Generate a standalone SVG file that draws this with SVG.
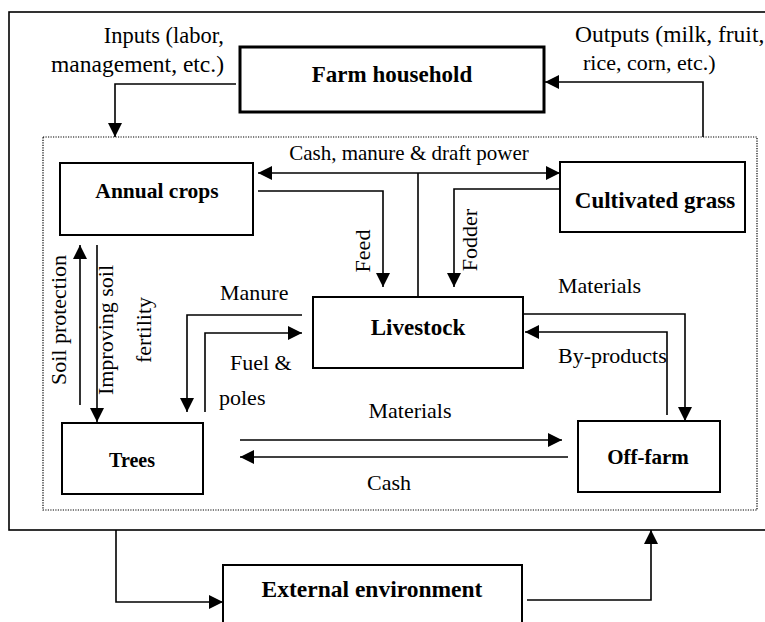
<svg xmlns="http://www.w3.org/2000/svg" width="765" height="622" viewBox="0 0 765 622">
<defs>
<marker id="ah" markerUnits="userSpaceOnUse" markerWidth="15" markerHeight="15" viewBox="0 0 15 15" refX="14" refY="7.5" orient="auto-start-reverse">
<path d="M0,0.5 L14,7.5 L0,14.5 Z" fill="#000"/>
</marker>
<style>
text{font-family:"Liberation Serif","Times New Roman",serif;fill:#000}
.lb{font-size:22px}
.nb{font-size:22px;font-weight:bold}
.box{fill:#fff;stroke:#000;stroke-width:2}
.c{fill:none;stroke:#000;stroke-width:1.6}
.ca{fill:none;stroke:#000;stroke-width:1.6;marker-end:url(#ah)}
</style>
</defs>
<rect width="765" height="622" fill="#fff"/>
<g id="frame">
<rect x="9" y="12" width="780" height="518" fill="none" stroke="#000" stroke-width="1.6"/>
<rect x="43" y="137" width="714" height="373" fill="none" stroke="#000" stroke-width="1.2" stroke-dasharray="1.2,1.3"/>
</g>
<g id="connectors">
<path class="ca" d="M236,84 H115 V137"/>
<path class="ca" d="M703,137 V82 H545"/>
<path class="c" d="M258,173 H560" marker-start="url(#ah)" marker-end="url(#ah)"/>
<path class="c" d="M418,173 V297"/>
<path class="ca" d="M258,191 H383 V287"/>
<path class="ca" d="M560,189 H454 V287"/>
<path class="ca" d="M302,315 H187 V412"/>
<path class="ca" d="M205,412 V333 H302"/>
<path class="ca" d="M80,405 V245"/>
<path class="ca" d="M97,245 V422"/>
<path class="ca" d="M240,440 H562"/>
<path class="ca" d="M568,457 H240"/>
<path class="ca" d="M524,314 H685 V421"/>
<path class="ca" d="M667,415 V332 H525"/>
<path class="ca" d="M116,530 V602 H223"/>
<path class="ca" d="M527,600 H651 V530"/>
</g>
<g id="labels">
<text class="lb" x="224" y="43" text-anchor="end" style="font-size:22.5px">Inputs (labor,</text>
<text class="lb" x="224" y="72" text-anchor="end" style="font-size:23.5px">management, etc.)</text>
<text class="lb" x="575" y="42" style="font-size:23.5px">Outputs (milk, fruit,</text>
<text class="lb" x="583" y="70">rice, corn, etc.)</text>
<text class="lb" x="409" y="160" text-anchor="middle" style="font-size:21px">Cash, manure &amp; draft power</text>
<text class="lb" transform="translate(370,251) rotate(-90)" text-anchor="middle">Feed</text>
<text class="lb" transform="translate(477,240) rotate(-90)" text-anchor="middle">Fodder</text>
<text class="lb" transform="translate(66,320) rotate(-90)" text-anchor="middle">Soil protection</text>
<text class="lb" transform="translate(113,330) rotate(-90)" text-anchor="middle">Improving soil</text>
<text class="lb" transform="translate(151,330) rotate(-90)" text-anchor="middle">fertility</text>
<text class="lb" x="220" y="300">Manure</text>
<text class="lb" x="230" y="370">Fuel &amp;</text>
<text class="lb" x="219" y="405">poles</text>
<text class="lb" x="558" y="293">Materials</text>
<text class="lb" x="558" y="363">By-products</text>
<text class="lb" x="410" y="418" text-anchor="middle">Materials</text>
<text class="lb" x="389" y="490" text-anchor="middle">Cash</text>
</g>
<g id="farm-household">
<rect x="240" y="47" width="304" height="65" fill="#fff" stroke="#000" stroke-width="3"/>
<text class="nb" x="392" y="82" text-anchor="middle" style="font-size:23px">Farm household</text>
</g>
<g id="annual-crops">
<rect class="box" x="60" y="163" width="193" height="72"/>
<text class="nb" x="157" y="198" text-anchor="middle" style="font-size:21.5px">Annual crops</text>
</g>
<g id="cultivated-grass">
<rect class="box" x="560" y="162" width="185" height="70"/>
<text class="nb" x="655" y="208" text-anchor="middle" style="font-size:23px">Cultivated grass</text>
</g>
<g id="livestock">
<rect class="box" x="313" y="297" width="210" height="71"/>
<text class="nb" x="418" y="335" text-anchor="middle" style="font-size:23px">Livestock</text>
</g>
<g id="trees">
<rect class="box" x="62" y="423" width="141" height="71"/>
<text class="nb" x="132" y="467" text-anchor="middle" style="font-size:20px">Trees</text>
</g>
<g id="off-farm">
<rect class="box" x="578" y="421" width="142" height="71"/>
<text class="nb" x="648" y="464" text-anchor="middle" style="font-size:21px">Off-farm</text>
</g>
<g id="external-environment">
<rect class="box" x="223" y="565" width="299" height="70"/>
<text class="nb" x="372" y="597" text-anchor="middle" style="font-size:23.5px">External environment</text>
</g>
</svg>
